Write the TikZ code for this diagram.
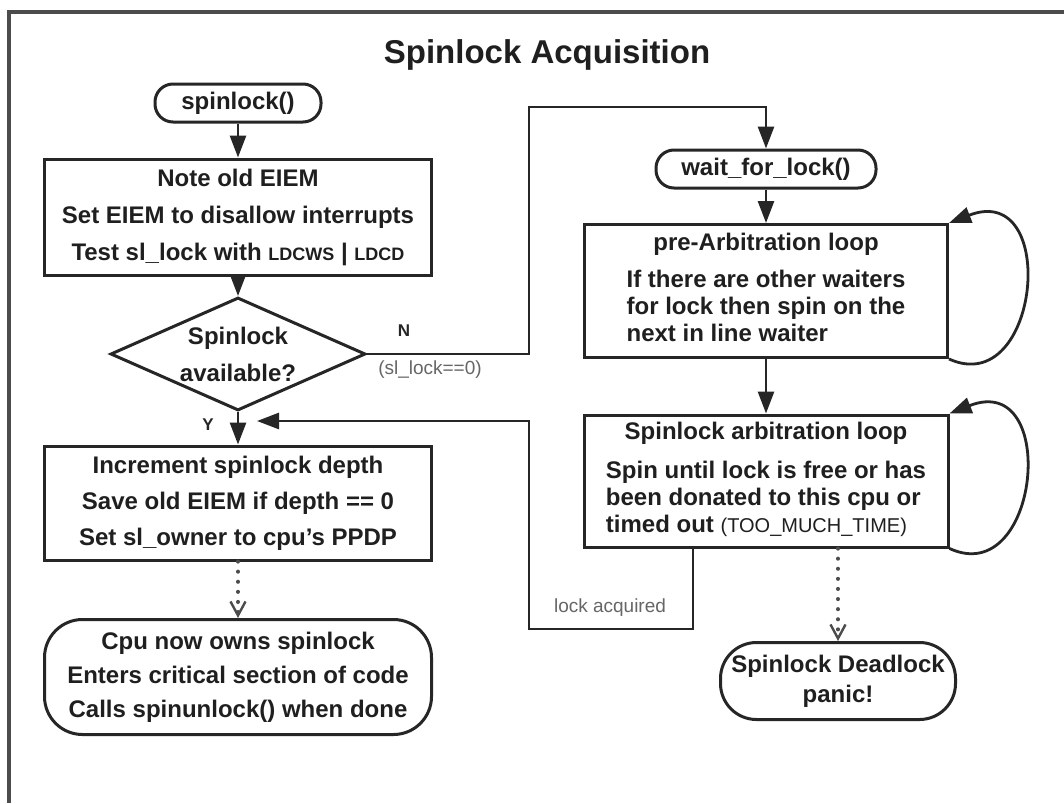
\documentclass[tikz,border=0pt]{standalone}
\usepackage{fontspec}
\setmainfont{Liberation Sans}
\usetikzlibrary{arrows.meta,shapes.geometric}
\begin{document}
\begin{tikzpicture}[x=1pt,y=-1pt,
  ink/.style={line width=3pt, draw=black!85},
  stepbox/.style={ink, rectangle, inner sep=0pt, align=center},
  pill/.style={ink, rectangle, rounded corners=#1, inner sep=0pt, align=center},
  txt/.style={font=\fontsize{24}{#1}\selectfont\bfseries, text=black!88},
  flow/.style={line width=2.8pt, draw=black!85, -{Triangle[length=22pt,width=16pt]}},
  dotflow/.style={line width=4pt, draw=black!70, line cap=round, dash pattern=on 0.1pt off 10pt,
                  -{Straight Barb[length=14pt,width=15pt,line width=2.4pt,line cap=butt]}},
  note/.style={font=\fontsize{19}{22}\selectfont, text=black!60},
  yn/.style={font=\fontsize{17}{20}\selectfont\bfseries, text=black!85},
]
\useasboundingbox (0,0) rectangle (1064,803);
\fill[white] (0,0) rectangle (1064,803);
% outer frame (left and top edges)
\draw[line width=3.2pt, black!70] (9,803) -- (9,12) -- (1064,12);

\node[font=\fontsize{33}{36}\selectfont\bfseries, text=black!88] (title) at (547,55) {Spinlock Acquisition};

% left column: acquisition path
\node[pill=18, minimum width=166, minimum height=38, txt=28] (start) at (238,103) {spinlock()};
\node[stepbox, minimum width=387, minimum height=116, txt=37] (note) at (238,217)
  {Note old EIEM\\Set EIEM to disallow interrupts\\Test sl\_lock with {\fontsize{18}{37}\selectfont LDCWS} | {\fontsize{18}{37}\selectfont LDCD}};
\node[ink, diamond, minimum width=255, minimum height=113, inner sep=0pt] (avail) at (238,354) {};
\node[txt=37, align=center] (availtxt) at (avail.center) {Spinlock\\available?};
\node[stepbox, minimum width=387, minimum height=114, txt=36] (incr) at (238,503)
  {Increment spinlock depth\\Save old EIEM if depth == 0\\Set sl\_owner to cpu's PPDP};
\node[pill=38, minimum width=387, minimum height=115, txt=34] (owns) at (238,677)
  {Cpu now owns spinlock\\Enters critical section of code\\Calls spinunlock() when done};

% right column: waiting path
\node[pill=18, minimum width=220, minimum height=38, txt=28] (wait) at (766,169) {wait\_for\_lock()};
\node[stepbox, minimum width=363, minimum height=133, txt=27] (prearb) at (766,291)
  {\begin{tabular}{@{}l@{}}\multicolumn{1}{@{}c@{}}{pre-Arbitration loop}\\[10pt]
   If there are other waiters\\ for lock then spin on the\\ next in line waiter\end{tabular}};
\node[stepbox, minimum width=364, minimum height=132, txt=27] (arb) at (766,481)
  {\begin{tabular}{@{}l@{}}\multicolumn{1}{@{}c@{}}{Spinlock arbitration loop}\\[12pt]
   Spin until lock is free or has\\ been donated to this cpu or\\
   timed out {\fontsize{20}{27}\selectfont\mdseries (TOO\_MUCH\_TIME)}\end{tabular}};
\node[pill=36, minimum width=235, minimum height=77, txt=30] (dead) at (838,681)
  {Spinlock Deadlock\\panic!};

% connectors
\draw[flow] (start) -- (note);
\draw[flow] (note) -- (avail);
\draw[flow] (avail) -- (incr);
\node[yn] (ylab) at (208,425) {Y};
\draw[dotflow] (incr) -- (owns);

\coordinate (nbend) at (529,107);
\draw[flow] (avail.east) -| (nbend) -| (wait.north);
\node[yn] (nlab) at (404,331) {N};
\node[note] (cond) at (430,370) {(sl\_lock==0)};

\draw[flow] (wait) -- (prearb);
\draw[flow] (prearb) -- (arb);

\draw[flow] (prearb.south east) .. controls (1040,400) and (1060,180) .. (prearb.north east);
\draw[flow] (arb.south east) .. controls (1040,590) and (1060,370) .. (arb.north east);

\coordinate (acq) at (693,629);
\coordinate (acqup) at (529,421);
\coordinate (acqend) at (257,421);
\draw[flow] (arb.south -| acq) -- (acq) -| (acqup) -- (acqend);
\node[note] (acqlab) at (610,608) {lock acquired};

\coordinate (deadx) at (838,0);
\draw[dotflow] (arb.south -| deadx) -- (dead.north);
\end{tikzpicture}
\end{document}
